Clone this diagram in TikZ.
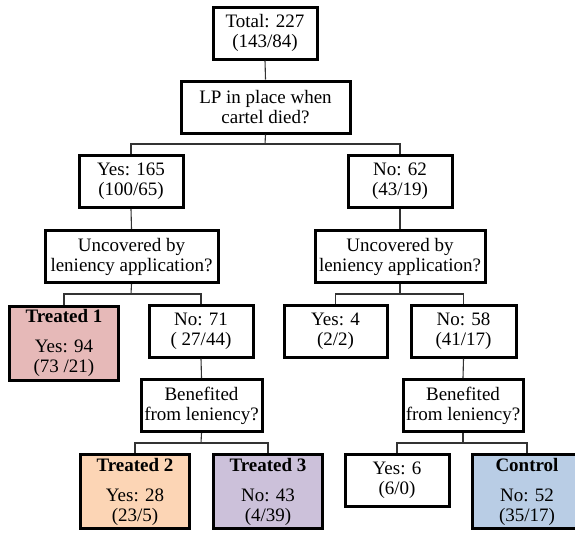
\documentclass[tikz,border=0pt]{standalone}
\usepackage{fontspec}
\setmainfont{Liberation Serif}
\definecolor{tpink}{HTML}{E6B9B8}
\definecolor{tpeach}{HTML}{FCD5B5}
\definecolor{tlav}{HTML}{CCC1DA}
\definecolor{tblue}{HTML}{B9CDE5}
\definecolor{conn}{HTML}{333333}
\begin{document}
\begin{tikzpicture}[x=1pt,y=-1pt,
  box/.style={draw=black, line width=3pt, align=center, inner sep=0pt,
    font=\fontsize{19}{20}\selectfont, minimum height=52pt},
  wbox/.style={box, fill=white},
  tbox/.style={box, minimum height=74pt, minimum width=109pt},
  link/.style={draw=conn, line width=1.1pt}]
\useasboundingbox (0,0) rectangle (575,533);
\fill[white] (0,0) rectangle (575,533);
% level 0-1
\node[wbox, minimum width=104pt] (total) at (265,33) {Total: 227\\(143/84)};
\node[wbox, minimum width=169pt] (lp) at (265.5,107) {LP in place when\\cartel died?};
% level 2
\node[wbox, minimum width=104pt] (yes165) at (131,181.5) {Yes: 165\\(100/65)};
\node[wbox, minimum width=104pt] (no62) at (400,181.5) {No: 62\\(43/19)};
% level 3
\node[wbox, minimum width=173pt] (uncl) at (131.5,256.5) {Uncovered by\\leniency application?};
\node[wbox, minimum width=170pt] (uncr) at (400,256.5) {Uncovered by\\leniency application?};
% level 4
\node[tbox, fill=tpink] (t1) at (64,343) {\textbf{Treated 1}\\[10pt]Yes: 94\\(73 /21)};
\node[wbox, minimum width=104pt] (no71) at (201,331) {No: 71\\( 27/44)};
\node[wbox, minimum width=103pt] (yes4) at (335.5,331) {Yes: 4\\(2/2)};
\node[wbox, minimum width=105pt] (no58) at (463.5,331) {No: 58\\(41/17)};
% level 5
\node[wbox, minimum width=121pt] (benl) at (201.5,405.5) {Benefited\\from leniency?};
\node[wbox, minimum width=120pt] (benr) at (463,405.5) {Benefited\\from leniency?};
% level 6
\node[tbox, fill=tpeach] (t2) at (135,491.5) {\textbf{Treated 2}\\[10pt]Yes: 28\\(23/5)};
\node[tbox, fill=tlav] (t3) at (268,491.5) {\textbf{Treated 3}\\[10pt]No: 43\\(4/39)};
\node[wbox, minimum width=104pt] (yes6) at (397,480) {Yes: 6\\(6/0)};
\node[tbox, fill=tblue] (ctrl) at (527,491.5) {\textbf{Control}\\[10pt]No: 52\\(35/17)};
% branch points
\coordinate (b1) at (265,144);
\coordinate (b2l) at (131,294);
\coordinate (b2r) at (400,294);
\coordinate (b3l) at (201,443);
\coordinate (b3r) at (463,443);
% connectors
\path[link] (total.south) -- (lp.north);
\path[link] (lp.south) -- (b1);
\path[link] (yes165.north) |- (b1) -| (no62.north);
\path[link] (yes165.south) -- (uncl.north);
\path[link] (no62.south) -- (uncr.north);
\path[link] (uncl.south) -- (b2l);
\path[link] (t1.north) |- (b2l) -| (no71.north);
\path[link] (uncr.south) -- (b2r);
\path[link] (yes4.north) |- (b2r) -| (no58.north);
\path[link] (no71.south) -- (benl.north);
\path[link] (no58.south) -- (benr.north);
\path[link] (benl.south) -- (b3l);
\path[link] (t2.north) |- (b3l) -| (t3.north);
\path[link] (benr.south) -- (b3r);
\path[link] (yes6.north) |- (b3r) -| (ctrl.north);
\end{tikzpicture}
\end{document}
